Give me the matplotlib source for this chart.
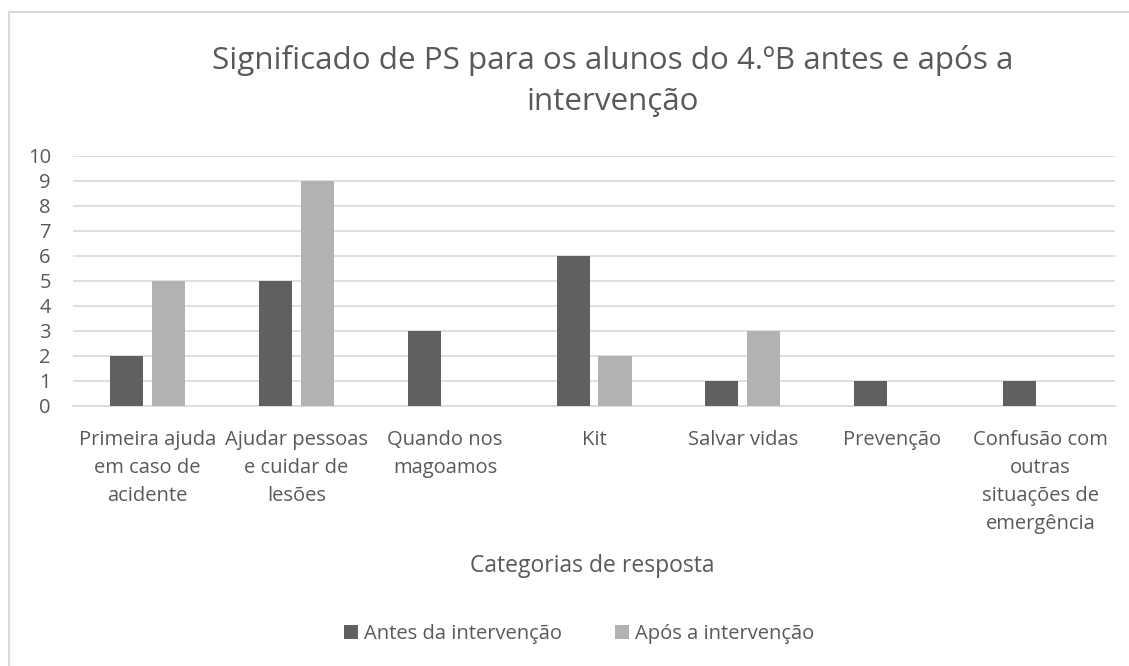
import matplotlib.pyplot as plt
import numpy as np
from matplotlib.lines import Line2D

categorias = ["Primeira ajuda\nem caso de\nacidente", "Ajudar pessoas\ne cuidar de\nlesões",
              "Quando nos\nmagoamos", "Kit", "Salvar vidas", "Prevenção",
              "Confusão com\noutras\nsituações de\nemergência"]
antes = [2, 5, 3, 6, 1, 1, 1]
apos = [5, 9, 0, 2, 3, 0, 0]

txt = "#595959"
plt.rcParams['font.family'] = ['Open Sans', 'DejaVu Sans']

fig = plt.figure(figsize=(11.29, 6.66), dpi=100)
ax = fig.add_axes([0.0647, 0.3904, 0.9229, 0.3754])

x = np.arange(len(categorias))
w = 0.222
ax.bar(x - 0.141, antes, w, color="#606060", label="Antes da intervenção", zorder=3)
ax.bar(x + 0.141, apos, w, color="#b2b2b2", label="Após a intervenção", zorder=3)

ax.set_xlim(-0.5, len(categorias) - 0.5)
ax.set_ylim(0, 10)
ax.set_yticks(range(11))
ax.yaxis.grid(True, color="#d9d9d9", linewidth=1.2, zorder=0)
for s in ["top", "right", "left"]:
    ax.spines[s].set_visible(False)
ax.spines["bottom"].set_color("#d9d9d9")
ax.spines["bottom"].set_linewidth(1.2)
ax.tick_params(length=0, labelsize=14.5, colors=txt)
ax.tick_params(axis="y", pad=16)
ax.set_xticks(x)
ax.set_xticklabels(categorias, linespacing=1.55, va="top")
ax.tick_params(axis="x", pad=17)

fig.text(0.543, 0.878, "Significado de PS para os alunos do 4.ºB antes e após a\nintervenção",
         ha="center", va="center", fontsize=22.6, color=txt, linespacing=1.47)
fig.text(0.525, 0.15, "Categorias de resposta", ha="center", va="center", fontsize=16.5, color=txt)

fig.legend(loc="center", bbox_to_anchor=(0.513, 0.048), ncol=2, frameon=False,
           fontsize=14.5, labelcolor=txt, handlelength=0.7, handleheight=0.7,
           handletextpad=0.3, columnspacing=2.6)

# light frame of the chart area (left and top edges visible)
fig.add_artist(Line2D([0.008, 0.008], [0, 0.982], transform=fig.transFigure,
                      color="#d9d9d9", linewidth=1.5))
fig.add_artist(Line2D([0.008, 1], [0.982, 0.982], transform=fig.transFigure,
                      color="#d9d9d9", linewidth=1.5))

fig.savefig("out.png", dpi=100)
